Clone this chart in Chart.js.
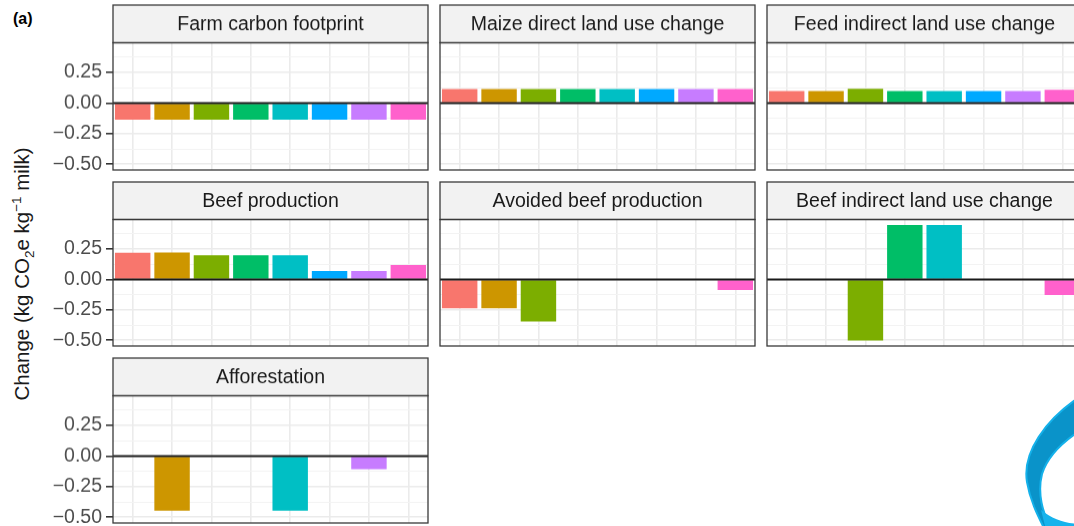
<!DOCTYPE html>
<html>
<head>
<meta charset="utf-8">
<title>Change in emissions by component</title>
<script src="https://cdn.jsdelivr.net/npm/chart.js@4/dist/chart.umd.min.js"></script>
<style>
  html, body { margin: 0; padding: 0; background: #fff; overflow: hidden; }
  #fig { position: relative; width: 1074px; height: 526px; overflow: hidden;
         font-family: "Liberation Sans", Arial, Helvetica, sans-serif; }
  .panel { position: absolute; }
  #ytitle { position: absolute; left: 21.5px; top: 274px; white-space: nowrap;
            transform: translate(-50%, -50%) rotate(-90deg);
            font-size: 20.5px; color: #1a1a1a; line-height: 1; }
  #ytitle sub, #ytitle sup { font-size: 13.5px; line-height: 0; }
  #tag { position: absolute; left: 13px; top: 10px; font-weight: bold; font-size: 16px; color: #000; }
  #mark { position: absolute; left: 0; top: 0; pointer-events: none; }
</style>
</head>
<body>
<div id="fig">
  <div id="tag">(a)</div>
  <div id="ytitle">Change (kg CO<sub>2</sub>e kg<sup>−1</sup> milk)</div>
  <svg id="mark" width="1074" height="526" viewBox="0 0 1074 526">
    <path d="M1078 398 C1046 420 1022 452 1027 482 C1030 500 1037 514 1044 528 L1050 528
             C1043 512 1037 494 1042 474 C1047 458 1060 444 1078 432 Z"
          fill="#0a93c9" stroke="#14b1ea" stroke-width="2"/>
    <path d="M1041 510 C1052 519 1064 523 1078 524 L1078 530 L1046 530 Z" fill="#16b3ec"/>
  </svg>
</div>
<script>
// Eight scenarios, one bar each per component panel
const scenarios = ['S1', 'S2', 'S3', 'S4', 'S5', 'S6', 'S7', 'S8'];
const barColours = ['#F8766D', '#CD9600', '#7CAE00', '#00BE67', '#00BFC4', '#00A9FF', '#C77CFF', '#FF61CC'];

// Change per component (kg CO2e per kg milk)
const farmCarbonFootprint     = [-0.135, -0.135, -0.135, -0.135, -0.135, -0.135, -0.135, -0.135];
const maizeDirectLUC          = [0.115, 0.115, 0.115, 0.115, 0.115, 0.115, 0.115, 0.115];
const feedIndirectLUC         = [0.098, 0.098, 0.117, 0.098, 0.098, 0.098, 0.098, 0.108];
const beefProduction          = [0.220, 0.222, 0.200, 0.200, 0.200, 0.069, 0.069, 0.118];
const avoidedBeefProduction   = [-0.236, -0.236, -0.345, 0, 0, 0, 0, -0.087];
const beefIndirectLUC         = [0, 0, -0.502, 0.448, 0.448, 0, 0, -0.128];
const afforestation           = [0, -0.447, 0, 0, -0.447, 0, -0.108, 0];

const panelTitles = ['Farm carbon footprint', 'Maize direct land use change', 'Feed indirect land use change',
                     'Beef production', 'Avoided beef production', 'Beef indirect land use change',
                     'Afforestation'];
const panelValues = [farmCarbonFootprint, maizeDirectLUC, feedIndirectLUC,
                     beefProduction, avoidedBeefProduction, beefIndirectLUC,
                     afforestation];

// Shared y axis
const yMajorTicks = [-0.5, -0.25, 0, 0.25];
const yMajorLabels = ['\u22120.50', '\u22120.25', '0.00', '0.25'];
const yMinorTicks = [-0.375, -0.125, 0.125, 0.375];
const Y_MIN = -0.547, Y_MAX = 0.493;

// Facet grid geometry (3 columns, wrapping)
const COL_LEFT = [113, 440, 767];
const ROW_TOP = [5.4, 181.7, 358];
const STRIP_H = 37.5, PLOT_W = 315, PLOT_H = 127;
const AXIS_W = 73, PAD = 3;
const FONT = '"Liberation Sans", Arial, Helvetica, sans-serif';

const isMajor = v => yMajorTicks.some(t => Math.abs(t - v) < 1e-9);

const facetPlugin = {
  id: 'facet',
  afterDatasetsDraw(chart) {
    const { ctx, chartArea: a } = chart;
    const y0 = chart.scales.y.getPixelForValue(0);
    ctx.save();
    ctx.strokeStyle = '#1a1a1a';
    ctx.lineWidth = 2;
    ctx.beginPath();
    ctx.moveTo(a.left, y0);
    ctx.lineTo(a.right, y0);
    ctx.stroke();
    ctx.restore();
  },
  afterDraw(chart, args, opts) {
    const { ctx, chartArea: a } = chart;
    ctx.save();
    // strip
    ctx.fillStyle = '#f2f2f2';
    ctx.fillRect(a.left, a.top - STRIP_H, a.right - a.left, STRIP_H);
    ctx.strokeStyle = '#3a3a3a';
    ctx.lineWidth = 1.3;
    ctx.strokeRect(a.left, a.top - STRIP_H, a.right - a.left, STRIP_H);
    // panel border
    ctx.strokeRect(a.left, a.top, a.right - a.left, a.bottom - a.top);
    // strip label
    ctx.fillStyle = '#1a1a1a';
    ctx.font = '19.5px ' + FONT;
    ctx.textAlign = 'center';
    ctx.textBaseline = 'middle';
    ctx.fillText(opts.title, (a.left + a.right) / 2, a.top - STRIP_H / 2 + 1);
    ctx.restore();
  }
};

const fig = document.getElementById('fig');

panelValues.forEach((values, i) => {
  const col = i % 3, row = Math.floor(i / 3);
  const showAxis = col === 0;
  const axisW = showAxis ? AXIS_W : PAD;
  const canvas = document.createElement('canvas');
  const w = axisW + PLOT_W + PAD;
  const h = PAD + STRIP_H + PLOT_H + PAD;
  canvas.width = w; canvas.height = h;
  canvas.className = 'panel';
  canvas.style.left = (COL_LEFT[col] - axisW) + 'px';
  canvas.style.top = (ROW_TOP[row] - PAD) + 'px';
  canvas.style.width = w + 'px';
  canvas.style.height = h + 'px';
  fig.appendChild(canvas);

  new Chart(canvas, {
    type: 'bar',
    data: {
      labels: scenarios,
      datasets: [{
        data: values,
        backgroundColor: barColours,
        borderWidth: 0,
        barPercentage: 0.9,
        categoryPercentage: 1
      }]
    },
    options: {
      responsive: false,
      animation: false,
      devicePixelRatio: 1,
      layout: { padding: { top: PAD + STRIP_H, right: PAD, bottom: PAD, left: 0 } },
      plugins: {
        legend: { display: false },
        tooltip: { enabled: false },
        facet: { title: panelTitles[i] }
      },
      scales: {
        x: {
          ticks: { display: false },
          grid: { color: '#ebebeb', lineWidth: 1.6, drawTicks: false, offset: false },
          border: { display: false },
          afterFit(s) { s.height = 0; s.paddingLeft = 0; s.paddingRight = 0; }
        },
        y: {
          min: Y_MIN,
          max: Y_MAX,
          afterBuildTicks(s) {
            s.ticks = yMajorTicks.concat(yMinorTicks).sort((p, q) => p - q).map(v => ({ value: v }));
          },
          ticks: {
            display: showAxis,
            autoSkip: false,
            color: '#4d4d4d',
            padding: 4,
            font: { size: 19.5, family: FONT },
            callback(v) {
              const k = yMajorTicks.findIndex(t => Math.abs(t - v) < 1e-9);
              return k >= 0 ? yMajorLabels[k] : '';
            }
          },
          grid: {
            color: c => isMajor(c.tick.value) ? '#ebebeb' : '#f3f3f3',
            lineWidth: c => isMajor(c.tick.value) ? 1.6 : 1,
            drawTicks: showAxis,
            tickLength: 7,
            tickWidth: 1.6,
            tickColor: c => isMajor(c.tick.value) ? '#333333' : 'rgba(0,0,0,0)'
          },
          border: { display: false },
          afterFit(s) { s.width = axisW; s.paddingTop = 0; s.paddingBottom = 0; }
        }
      }
    },
    plugins: [facetPlugin]
  });
});
</script>
</body>
</html>
